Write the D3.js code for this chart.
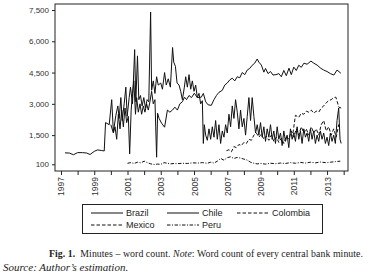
<!DOCTYPE html>
<html>
<head>
<meta charset="utf-8">
<script src="https://cdn.jsdelivr.net/npm/d3@7"></script>
<style>
  body { margin: 0; background: #fff; }
  svg { display: block; }
</style>
</head>
<body>
<div id="chart"></div>
<script>
// word counts per minute, [decimal year, words]
const chile = [
  [1997.24,650],[1997.5,640],[1997.75,560],[1998.0,660],[1998.3,660],[1998.55,640],[1998.75,570],[1999.0,720],
  [1999.2,790],[1999.45,760],[1999.6,740],[1999.68,2100],[1999.9,2000],[2000.05,3200],[2000.15,1650],[2000.3,2450],
  [2000.42,2900],[2000.5,2300],[2000.6,3300],[2000.68,2200],[2000.8,3000],[2000.9,3800],[2000.98,2400],[2001.1,3300],
  [2001.18,3800],[2001.3,3000],[2001.43,5600],[2001.5,3100],[2001.6,5300],[2001.68,3200],[2001.78,3400],[2001.88,2900],
  [2001.98,3300],[2002.08,2800],[2002.18,3200],[2002.28,3100],[2002.39,7400],[2002.45,3650],[2002.55,4100],[2002.65,3500],
  [2002.75,4300],[2002.85,3900],[2003.0,4000],[2003.1,3700],[2003.23,4500],[2003.33,3900],[2003.45,4200],[2003.58,3800],
  [2003.71,5700],[2003.78,5000],[2003.88,4800],[2003.98,4000],[2004.1,3900],[2004.2,3600],[2004.3,3200],[2004.42,3800],
  [2004.5,4300],[2004.6,3800],[2004.7,4400],[2004.8,3700],[2004.9,4100],[2005.0,3600],[2005.1,3900],[2005.2,3300],
  [2005.3,3500],[2005.4,3000],[2005.5,3150],[2005.56,1100],[2005.62,2000],[2005.7,1500],[2005.8,1250],[2005.9,1800],
  [2006.0,1300],[2006.1,1900],[2006.2,1400],[2006.3,2200],[2006.4,1300],[2006.5,2000],[2006.6,1100],[2006.7,1700],
  [2006.8,1400],[2006.9,2000],[2007.0,1600],[2007.1,2500],[2007.2,1900],[2007.3,2900],[2007.4,2300],[2007.5,3200],
  [2007.6,2600],[2007.7,1800],[2007.8,2700],[2007.9,1900],[2008.0,2300],[2008.1,1500],[2008.2,2400],[2008.3,3300],
  [2008.4,2200],[2008.5,3300],[2008.6,2400],[2008.7,1600],[2008.8,2000],[2008.9,1500],[2009.0,2100],[2009.1,1400],
  [2009.2,1900],[2009.3,1200],[2009.4,1800],[2009.5,1400],[2009.6,2000],[2009.7,1300],[2009.8,1700],[2009.9,1100],
  [2010.0,1900],[2010.1,1300],[2010.2,1600],[2010.3,1000],[2010.4,1700],[2010.5,1200],[2010.6,1500],[2010.7,900],
  [2010.8,1800],[2010.9,1300],[2011.0,1600],[2011.1,1200],[2011.2,1900],[2011.3,1300],[2011.4,1700],[2011.5,1100],
  [2011.6,1800],[2011.7,1400],[2011.8,1600],[2011.9,1200],[2012.0,1800],[2012.1,1300],[2012.2,1700],[2012.3,1100],
  [2012.4,1500],[2012.5,1200],[2012.6,1700],[2012.7,1300],[2012.8,1600],[2012.9,1100],[2013.0,1400],[2013.1,1000],
  [2013.2,1600],[2013.3,1200],[2013.4,1500],[2013.5,1100],[2013.6,2200],[2013.7,2800],[2013.78,1300],[2013.85,1100]
];
const brazil = [
  [2000.0,2000],[2000.15,1600],[2000.25,1900],[2000.35,1300],[2000.45,2500],[2000.55,1800],[2000.65,2700],[2000.75,1900],
  [2000.85,2800],[2000.95,2100],[2001.05,2400],[2001.13,600],[2001.22,2700],[2001.3,3500],[2001.38,4100],[2001.48,2500],
  [2001.55,3300],[2001.65,2600],[2001.75,3000],[2001.85,2500],[2001.95,2900],[2002.05,2600],[2002.15,3000],[2002.25,2700],
  [2002.35,3100],[2002.45,3600],[2002.55,3000],[2002.65,3200],[2002.75,440],[2002.81,2550],[2002.9,2300],[2003.05,2070],
  [2003.23,1880],[2003.4,2700],[2003.55,2600],[2003.7,2700],[2003.85,2840],[2004.0,2700],[2004.15,3000],[2004.3,3100],
  [2004.43,3320],[2004.55,3200],[2004.7,3400],[2004.85,3300],[2005.02,3510],[2005.2,3300],[2005.44,3320],[2005.56,3500],
  [2005.7,3100],[2005.85,2950],[2006.04,2930],[2006.2,3200],[2006.35,3400],[2006.5,3550],[2006.7,3650],[2006.85,3900],
  [2007.0,4000],[2007.15,4150],[2007.3,4230],[2007.45,4100],[2007.6,4300],[2007.75,4250],[2007.9,4500],[2008.05,4400],
  [2008.2,4620],[2008.35,4700],[2008.5,4850],[2008.65,4950],[2008.8,5150],[2008.9,5000],[2009.05,4860],[2009.2,4520],
  [2009.3,4700],[2009.45,4450],[2009.6,4550],[2009.75,4380],[2009.93,4400],[2010.1,4450],[2010.25,4300],[2010.4,4600],
  [2010.55,4350],[2010.71,4710],[2010.85,4400],[2011.0,4760],[2011.15,4600],[2011.3,4850],[2011.45,4750],[2011.61,4950],
  [2011.8,4900],[2012.03,5050],[2012.2,4950],[2012.4,4860],[2012.63,4700],[2012.8,4620],[2013.0,4550],[2013.2,4450],
  [2013.41,4380],[2013.6,4620],[2013.83,4470]
];
const colombia = [
  [2006.95,750],[2007.1,800],[2007.25,700],[2007.4,950],[2007.55,900],[2007.7,1050],[2007.85,1000],[2008.0,1150],
  [2008.15,1100],[2008.3,1300],[2008.45,1250],[2008.6,1500],[2008.75,1600],[2008.9,1400],[2009.05,1550],[2009.2,1300],
  [2009.35,1450],[2009.5,1250],[2009.65,1500],[2009.8,1200],[2009.95,1400],[2010.1,1150],[2010.25,1350],[2010.4,1100],
  [2010.55,1450],[2010.7,1300],[2010.85,1700],[2011.0,1400],[2011.15,1800],[2011.3,1500],[2011.45,1900],[2011.6,1600],
  [2011.75,1800],[2011.9,1500],[2012.05,1900],[2012.2,1600],[2012.35,1800],[2012.5,1500],[2012.65,2000],[2012.8,2200],
  [2012.95,1700],[2013.1,1900],[2013.25,1500],[2013.4,1800],[2013.55,1400],[2013.7,2000],[2013.85,1900]
];
const mexico = [
  [2010.95,1600],[2011.1,2450],[2011.3,2350],[2011.45,2550],[2011.6,2500],[2011.75,2650],[2011.9,2600],[2012.05,2700],
  [2012.2,2550],[2012.35,2650],[2012.5,2600],[2012.65,2800],[2012.8,2900],[2012.95,3050],[2013.1,3150],[2013.25,3200],
  [2013.4,3300],[2013.53,3320],[2013.71,2840],[2013.85,2800]
];
const peru = [
  [2001.0,150],[2001.2,180],[2001.4,140],[2001.6,200],[2001.8,170],[2002.0,250],[2002.2,180],[2002.4,120],
  [2002.6,90],[2002.8,110],[2003.0,100],[2003.2,180],[2003.4,150],[2003.6,120],[2003.8,140],[2004.0,130],
  [2004.3,150],[2004.6,140],[2004.9,170],[2005.2,160],[2005.5,180],[2005.8,150],[2006.0,200],[2006.2,160],
  [2006.4,250],[2006.6,380],[2006.8,300],[2007.0,420],[2007.2,460],[2007.4,380],[2007.6,430],[2007.8,400],
  [2008.0,350],[2008.2,300],[2008.4,200],[2008.6,150],[2008.8,120],[2009.0,140],[2009.3,110],[2009.6,150],
  [2009.9,130],[2010.2,160],[2010.5,140],[2010.8,180],[2011.1,150],[2011.4,190],[2011.7,160],[2012.0,200],
  [2012.3,170],[2012.6,210],[2012.9,180],[2013.2,200],[2013.5,230],[2013.8,250]
];

const yTicks = [100, 1500, 3000, 4500, 6000, 7500];
const years = d3.range(1997, 2015);
const yearLabels = [1997, 1999, 2001, 2003, 2005, 2007, 2009, 2011, 2013];

const series = [
  { name: "Brazil", data: brazil, dash: null },
  { name: "Chile", data: chile, dash: null },
  { name: "Colombia", data: colombia, dash: "3.5,2" },
  { name: "Mexico", data: mexico, dash: "3.5,2" },
  { name: "Peru", data: peru, dash: "3.5,1.5,1,1.5" }
];

const width = 381, height = 273;
const plot = { left: 55, right: 348, top: 4, bottom: 171 };

const svg = d3.select("#chart").append("svg")
  .attr("width", width)
  .attr("height", height);

const x = d3.scaleLinear().domain([1996.64, 2014.26]).range([plot.left, plot.right]);
const y = d3.scaleLinear().domain([-221, 7788]).range([plot.bottom, plot.top]);

const line = d3.line().x(d => x(d[0])).y(d => y(d[1]));

const font = "'Liberation Sans', Arial, sans-serif";

// series
svg.append("g")
  .selectAll("path")
  .data(series)
  .join("path")
  .attr("d", d => line(d.data))
  .attr("fill", "none")
  .attr("stroke", "#111")
  .attr("stroke-width", 1)
  .attr("stroke-linejoin", "round")
  .attr("stroke-dasharray", d => d.dash);

// frame
svg.append("rect")
  .attr("x", plot.left)
  .attr("y", plot.top)
  .attr("width", plot.right - plot.left)
  .attr("height", plot.bottom - plot.top)
  .attr("fill", "none")
  .attr("stroke", "#222")
  .attr("stroke-width", 1);

// y axis
const yAxis = d3.axisLeft(y)
  .tickValues(yTicks)
  .tickSize(3)
  .tickPadding(3)
  .tickFormat(d3.format(","));

svg.append("g")
  .attr("transform", `translate(${plot.left},0)`)
  .call(yAxis)
  .call(g => g.select(".domain").remove())
  .call(g => g.selectAll("line").attr("stroke", "#222"))
  .call(g => g.selectAll("text")
    .style("font-family", font)
    .style("font-size", "8px")
    .attr("fill", "#333"));

// x axis
const xAxis = d3.axisBottom(x)
  .tickValues(years)
  .tickSize(4)
  .tickFormat(d => yearLabels.includes(d) ? d : "");

svg.append("g")
  .attr("transform", `translate(0,${plot.bottom})`)
  .call(xAxis)
  .call(g => g.select(".domain").remove())
  .call(g => g.selectAll("line").attr("stroke", "#222"))
  .call(g => g.selectAll("text")
    .style("font-family", font)
    .style("font-size", "8.5px")
    .attr("fill", "#333")
    .attr("text-anchor", "end")
    .attr("transform", "rotate(-90)")
    .attr("x", -6)
    .attr("y", 0)
    .attr("dy", "0.35em"));

// legend
const legend = svg.append("g");
legend.append("rect")
  .attr("x", 82.5).attr("y", 204.5)
  .attr("width", 240).attr("height", 29)
  .attr("fill", "none").attr("stroke", "#222");

const legendPos = [
  { x: 91, y: 213 }, { x: 167, y: 213 }, { x: 237, y: 213 },
  { x: 91, y: 225 }, { x: 167, y: 225 }
];

series.forEach((s, i) => {
  const p = legendPos[i];
  legend.append("line")
    .attr("x1", p.x).attr("x2", p.x + 32)
    .attr("y1", p.y).attr("y2", p.y)
    .attr("stroke", "#111")
    .attr("stroke-dasharray", s.dash);
  legend.append("text")
    .attr("x", p.x + 35)
    .attr("y", p.y + 3)
    .style("font-family", font)
    .style("font-size", "9px")
    .attr("fill", "#222")
    .text(s.name);
});

// caption
const serif = "'Liberation Serif', 'Times New Roman', serif";
const cap = svg.append("text")
  .attr("x", 49)
  .attr("y", 257)
  .attr("textLength", 314)
  .attr("lengthAdjust", "spacing")
  .style("font-family", serif)
  .style("font-size", "9.8px")
  .attr("fill", "#222");
cap.append("tspan").attr("font-weight", "bold").text("Fig. 1.");
cap.append("tspan").text("\u2002Minutes \u2013 word count. ");
cap.append("tspan").attr("font-style", "italic").text("Note");
cap.append("tspan").text(": Word count of every central bank minute.");

svg.append("text")
  .attr("x", 3)
  .attr("y", 271)
  .style("font-family", serif)
  .style("font-size", "11px")
  .style("font-style", "italic")
  .attr("fill", "#222")
  .text("Source: Author\u2019s estimation.");
</script>
</body>
</html>
